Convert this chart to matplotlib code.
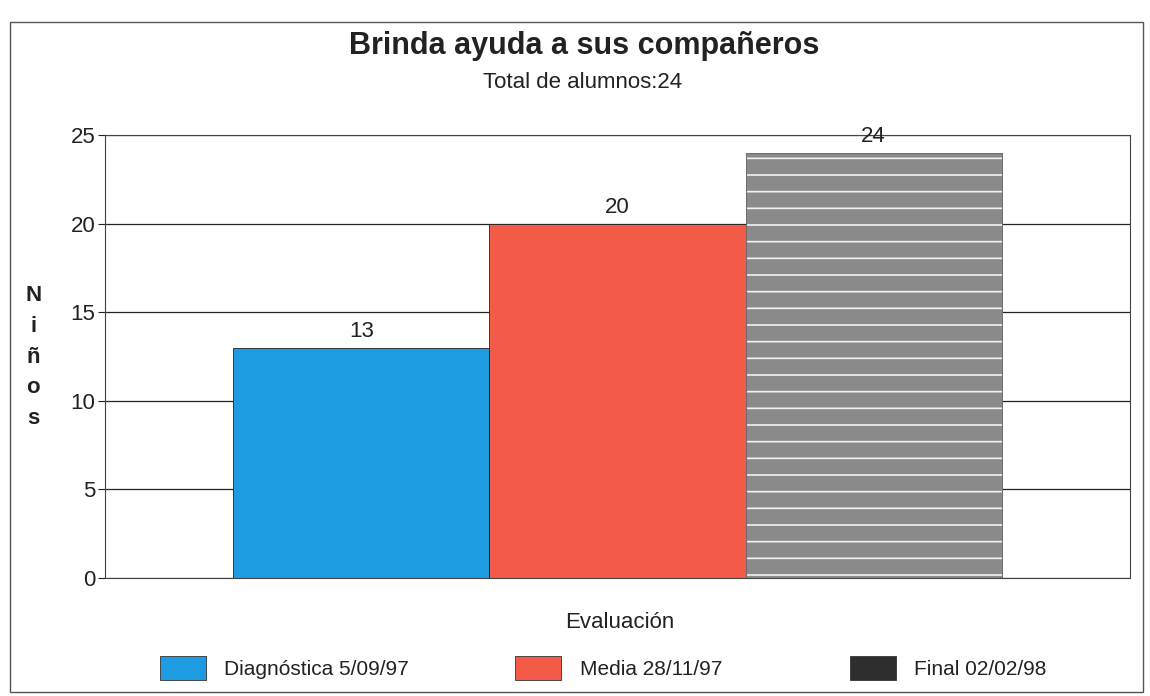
import matplotlib
matplotlib.use('Agg')
import matplotlib.pyplot as plt
from matplotlib.patches import Patch, Rectangle

plt.rcParams['font.family'] = ['Liberation Sans', 'DejaVu Sans']
plt.rcParams['hatch.linewidth'] = 1.2

categorias = ['Diagnóstica 5/09/97', 'Media 28/11/97', 'Final 02/02/98']
ninos = [13, 20, 24]
colores = ['#1e9ce2', '#f45a48', '#8a8a8a']
color_leyenda = ['#1e9ce2', '#f45a48', '#2e2e2e']
yticks = [0, 5, 10, 15, 20, 25]

titulo = 'Brinda ayuda a sus compañeros'
subtitulo = 'Total de alumnos:24'


def main():
    fig = plt.figure(figsize=(11.5, 6.96), dpi=100)
    ax = fig.add_axes([0.0913, 0.1695, 0.8913, 0.6365])

    pos = list(range(len(ninos)))
    bars = ax.bar(pos, ninos, width=1.0, color=colores, edgecolor='#222222',
                  linewidth=0.6, zorder=2)
    # textura de la barra final
    bars[2].set_hatch('-')
    bars[2].set_edgecolor('#f2f2f2')
    ax.bar(pos[2], ninos[2], width=1.0, color='none', edgecolor='#555555',
           linewidth=0.6, zorder=3)

    for p, v in zip(pos, ninos):
        ax.text(p, v + 0.3, str(v), ha='center', va='bottom', fontsize=16,
                color='#222222')

    ax.set_xlim(-1, 3)
    ax.set_ylim(0, 25)
    ax.set_yticks(yticks)
    ax.set_xticks([])
    ax.tick_params(axis='y', length=5, width=0.8, labelsize=16,
                   colors='#222222', pad=2)
    ax.yaxis.grid(True, color='#222222', linewidth=0.9)
    ax.set_axisbelow(True)
    for s in ax.spines.values():
        s.set_color('#444444')
        s.set_linewidth(0.8)

    fig.text(0.508, 0.934, titulo, ha='center', va='center', fontsize=22,
             fontweight='bold', color='#222222')
    fig.text(0.507, 0.882, subtitulo, ha='center', va='center', fontsize=16,
             color='#222222')
    fig.text(0.539, 0.106, 'Evaluación', ha='center', va='center',
             fontsize=16, color='#222222')
    fig.text(0.029, 0.487, 'N\ni\nñ\no\ns', ha='center', va='center',
             fontsize=16, fontweight='bold', linespacing=1.6, color='#222222')

    # leyenda: una entrada por fecha
    xs_leyenda = [0.139, 0.448, 0.739]
    for lab, col, x in zip(categorias, color_leyenda, xs_leyenda):
        h = Patch(facecolor=col, edgecolor='#333333', linewidth=0.6)
        fig.legend([h], [lab], loc='center left', bbox_to_anchor=(x, 0.04),
                   frameon=False, fontsize=15, handlelength=2.2,
                   handleheight=1.35, handletextpad=0.9, borderpad=0,
                   borderaxespad=0, labelcolor='#222222')

    # marco exterior del escaneo
    fig.patches.append(Rectangle((0.009, 0.006), 0.985, 0.962,
                                 transform=fig.transFigure, fill=False,
                                 edgecolor='#555555', linewidth=1.0))

    fig.savefig('out.png', dpi=100)


if __name__ == '__main__':
    main()
